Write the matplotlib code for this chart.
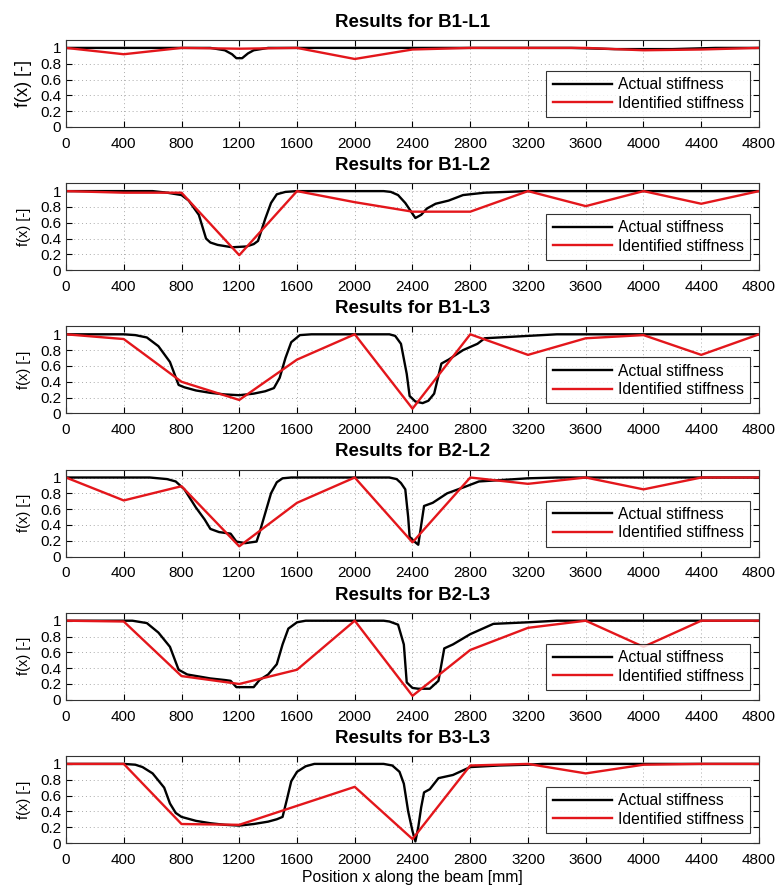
import matplotlib
matplotlib.use("Agg")
import matplotlib.pyplot as plt

plt.rcParams["font.family"] = ["Liberation Sans", "DejaVu Sans"]

titles = ["B1-L1", "B1-L2", "B1-L3", "B2-L2", "B2-L3", "B3-L3"]

# identified stiffness: sampled every 400 mm
id_x = [0, 400, 800, 1200, 1600, 2000, 2400, 2800, 3200, 3600, 4000, 4400, 4800]
id_y = [
    [1.0, 0.92, 1.0, 0.99, 1.0, 0.86, 0.98, 1.0, 1.0, 1.0, 0.97, 0.98, 1.0],
    [1.0, 0.98, 0.98, 0.19, 1.0, 0.86, 0.74, 0.74, 1.0, 0.81, 1.0, 0.84, 1.0],
    [1.0, 0.94, 0.40, 0.17, 0.68, 1.0, 0.06, 1.0, 0.74, 0.95, 0.99, 0.74, 1.0],
    [1.0, 0.71, 0.89, 0.13, 0.68, 1.0, 0.18, 1.0, 0.92, 1.0, 0.85, 1.0, 1.0],
    [1.0, 0.99, 0.30, 0.20, 0.38, 1.0, 0.05, 0.63, 0.91, 1.0, 0.67, 1.0, 1.0],
    [1.0, 1.0, 0.24, 0.23, 0.47, 0.71, 0.05, 0.98, 1.0, 0.88, 0.99, 1.0, 1.0],
]

# actual stiffness profiles (x in mm, f(x))
act_x = [
    [0, 1000, 1100, 1150, 1180, 1220, 1260, 1300, 1400, 3500, 3800, 4200, 4500, 4800],
    [0, 600, 700, 800, 850, 920, 970, 1000, 1050, 1150, 1250, 1300, 1330, 1380, 1420,
     1460, 1520, 1600, 2200, 2250, 2300, 2350, 2420, 2460, 2500, 2560, 2650, 2750,
     2900, 3200, 4800],
    [0, 400, 480, 560, 640, 720, 780, 820, 900, 1000, 1100, 1200, 1300, 1380, 1440,
     1480, 1520, 1560, 1620, 1700, 2240, 2280, 2320, 2360, 2380, 2420, 2470, 2510,
     2550, 2600, 2650, 2750, 2850, 2900, 3200, 3400, 4800],
    [0, 580, 700, 760, 820, 900, 960, 1000, 1060, 1140, 1180, 1240, 1320, 1340, 1380,
     1420, 1460, 1500, 1560, 2240, 2290, 2320, 2350, 2370, 2380, 2420, 2440, 2480,
     2540, 2640, 2760, 2860, 3200, 3400, 4800],
    [0, 460, 560, 640, 720, 780, 840, 1000, 1100, 1140, 1180, 1300, 1340, 1400, 1460,
     1500, 1540, 1600, 1660, 2200, 2240, 2300, 2340, 2360, 2400, 2440, 2520, 2580,
     2620, 2680, 2800, 2960, 3200, 3400, 4800],
    [0, 400, 480, 530, 600, 680, 720, 760, 800, 900, 1000, 1100, 1200, 1300, 1400,
     1460, 1500, 1530, 1560, 1600, 1660, 1720, 2200, 2260, 2310, 2340, 2370, 2400,
     2420, 2440, 2460, 2480, 2520, 2580, 2680, 2800, 3000, 3200, 3300, 4800],
]
act_y = [
    [1.0, 1.0, 0.97, 0.92, 0.87, 0.87, 0.93, 0.97, 1.0, 1.0, 0.985, 0.985, 1.0, 1.0],
    [1.0, 1.0, 0.98, 0.95, 0.88, 0.70, 0.40, 0.35, 0.32, 0.29, 0.30, 0.33, 0.37, 0.65,
     0.85, 0.96, 0.99, 1.0, 1.0, 0.99, 0.95, 0.85, 0.66, 0.70, 0.78, 0.84, 0.88, 0.95,
     0.98, 1.0, 1.0],
    [1.0, 1.0, 0.99, 0.96, 0.85, 0.65, 0.36, 0.33, 0.29, 0.26, 0.24, 0.23, 0.25, 0.28,
     0.32, 0.45, 0.70, 0.90, 0.99, 1.0, 1.0, 0.98, 0.88, 0.50, 0.22, 0.15, 0.13, 0.16,
     0.25, 0.63, 0.68, 0.80, 0.88, 0.95, 0.98, 1.0, 1.0],
    [1.0, 1.0, 0.98, 0.95, 0.85, 0.62, 0.47, 0.35, 0.31, 0.29, 0.19, 0.17, 0.19, 0.30,
     0.55, 0.80, 0.94, 0.99, 1.0, 1.0, 0.98, 0.93, 0.85, 0.50, 0.25, 0.18, 0.15, 0.64,
     0.68, 0.80, 0.88, 0.95, 0.99, 1.0, 1.0],
    [1.0, 1.0, 0.97, 0.85, 0.67, 0.38, 0.32, 0.27, 0.25, 0.24, 0.16, 0.16, 0.25, 0.32,
     0.45, 0.70, 0.90, 0.98, 1.0, 1.0, 0.99, 0.95, 0.70, 0.22, 0.15, 0.14, 0.14, 0.24,
     0.65, 0.70, 0.83, 0.96, 0.98, 1.0, 1.0],
    [1.0, 1.0, 0.99, 0.96, 0.88, 0.70, 0.50, 0.38, 0.33, 0.28, 0.25, 0.23, 0.22, 0.24,
     0.27, 0.30, 0.33, 0.55, 0.78, 0.90, 0.97, 1.0, 1.0, 0.98, 0.90, 0.75, 0.40, 0.15,
     0.02, 0.20, 0.45, 0.64, 0.68, 0.82, 0.86, 0.96, 0.98, 0.99, 1.0, 1.0],
]

xticks = list(range(0, 4801, 400))
yticks = [0, 0.2, 0.4, 0.6, 0.8, 1]
ytick_labels = ["0", "0.2", "0.4", "0.6", "0.8", "1"]

W, H = 778, 888
fig = plt.figure(figsize=(W / 100, H / 100), dpi=100)

left, right = 66, 759
ax_h = 87
for i in range(6):
    top = 40 + 143.2 * i
    ax = fig.add_axes([left / W, 1 - (top + ax_h) / H, (right - left) / W, ax_h / H])
    ax.plot(act_x[i], act_y[i], color="black", lw=1.7, label="Actual stiffness")
    ax.plot(id_x, id_y[i], color="#e3161b", lw=1.7, label="Identified stiffness")
    ax.set_xlim(0, 4800)
    ax.set_ylim(0, 1.1)
    ax.set_xticks(xticks)
    ax.set_yticks(yticks)
    ax.set_yticklabels(ytick_labels)
    ax.tick_params(direction="in", top=True, right=True, length=4, width=0.8)
    ax.tick_params(axis="x", labelsize=11, pad=7)
    ax.tick_params(axis="y", labelsize=11, pad=3.5)
    ax.grid(True, linestyle=(0, (1, 3)), color="#aaaaaa", lw=0.7)
    for s in ax.spines.values():
        s.set_linewidth(0.8)
        s.set_color("#333333")
    ax.set_ylabel("f(x) [-]", fontsize=13 if i == 0 else 10.5, va="center")
    ax.yaxis.set_label_coords((23.5 - left) / (right - left), 0.5)
    ax.set_title(f"Results for {titles[i]}", fontsize=13.5, fontweight="bold", pad=9.5)
    leg = ax.legend(loc="lower right", bbox_to_anchor=(0.987, 0.115), fontsize=11.3,
                    handlelength=3.8, frameon=True, fancybox=False, borderpad=0.4,
                    labelspacing=0.22, handletextpad=0.35, borderaxespad=0)
    leg.get_frame().set_edgecolor("black")
    leg.get_frame().set_linewidth(0.8)
    if i == 5:
        ax.set_xlabel("Position x along the beam [mm]", fontsize=11.3, labelpad=2)

fig.savefig("out.png", dpi=100, facecolor="white")
